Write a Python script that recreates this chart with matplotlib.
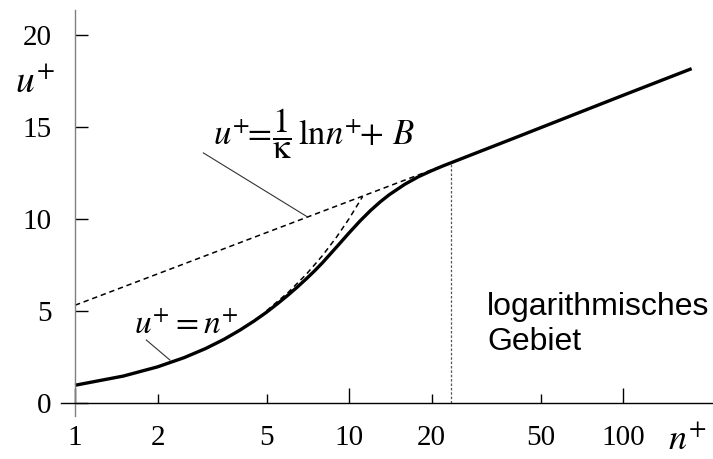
import matplotlib
matplotlib.use("Agg")
import matplotlib.pyplot as plt
from matplotlib.ticker import FixedLocator, FixedFormatter

plt.rcParams['mathtext.fontset'] = 'stix'
plt.rcParams['font.family'] = ['Liberation Serif', 'DejaVu Serif']

# solid curve (wall law)
n_wall = [1, 1.5, 2, 2.5, 3, 3.5, 4, 4.5, 5, 5.5, 6, 6.5, 7, 7.5, 8, 9, 10,
          11, 12, 13, 14, 16, 18, 20, 22, 24, 28, 40, 65.9, 100, 178]
u_wall = [0.95, 1.45, 1.95, 2.45, 2.95, 3.45, 3.95, 4.44, 4.92, 5.4, 5.86, 6.31, 6.75,
          7.18, 7.61, 8.46, 9.23, 9.9, 10.46, 10.92, 11.3, 11.88, 12.3, 12.61, 12.87,
          13.09, 13.48, 14.38, 15.65, 16.71, 18.16]

# u+ = n+ (viscous sublayer), dashed
n_lin = [5, 6, 7, 8, 9, 10, 11.2]
u_lin = [5, 6, 7, 8, 9, 10, 11.2]

# log law, dashed
n_log = [1, 24]
u_log = [5.3, 13.1]

n_border = 23.6
u_border = 13.05

x_major = [1, 10, 100]
x_minor = [2, 5, 20, 50]
y_ticks = [0, 5, 10, 15, 20]

fig = plt.figure(figsize=(7.13, 4.59), dpi=100)
ax = fig.add_axes([0.0856, 0.0937, 0.9144, 0.885])
ax.set_xscale('log')
ax.set_xlim(0.889, 213)
ax.set_ylim(-0.72, 21.36)

for s in ['top', 'right']:
    ax.spines[s].set_visible(False)
ax.spines['bottom'].set_position(('data', 0))
ax.spines['left'].set_position(('data', 1))
ax.spines['left'].set_color('#808080')
ax.spines['left'].set_linewidth(1.0)
ax.spines['bottom'].set_linewidth(1.0)

ax.plot(n_log, u_log, color='black', lw=1.1, ls=(0, (3.5, 2.5)))
ax.plot(n_lin, u_lin, color='black', lw=1.1, ls=(0, (3.5, 2.5)))
ax.plot([n_border, n_border], [0, u_border], color='#555555', lw=0.9, ls=(0, (2, 1.5)))
ax.plot(n_wall, u_wall, color='black', lw=2.4, solid_capstyle='butt', solid_joinstyle='round')

# leader lines
ax.plot([1.82, 2.22], [3.41, 2.32], color='#333333', lw=0.8)
ax.plot([2.94, 7.0], [13.58, 10.13], color='#333333', lw=0.8)

ax.xaxis.set_major_locator(FixedLocator(x_major))
ax.xaxis.set_minor_locator(FixedLocator(x_minor))
ax.xaxis.set_major_formatter(FixedFormatter([str(v) for v in x_major]))
ax.xaxis.set_minor_formatter(FixedFormatter([str(v) for v in x_minor]))
ax.set_yticks(y_ticks)
ax.set_yticklabels([str(v) for v in y_ticks])
ax.tick_params(axis='x', which='major', direction='in', length=10.5, width=1, pad=16, labelsize=21)
ax.tick_params(axis='x', which='minor', direction='in', length=6.7, width=1, pad=16, labelsize=21)
ax.tick_params(axis='y', direction='in', length=9.4, width=1, pad=17, labelsize=21)
ax.yaxis.set_minor_locator(FixedLocator([]))

ax.text(1.64, 3.77, r'$u^{+} = n^{+}$', fontsize=24, ha='left', va='baseline')
ax.text(3.19, 14.0, r'$u^{+}\!\!=\!\dfrac{1}{\mathrm{\kappa}}\,\mathrm{ln}n^{+}\!\!+\,B$',
        fontsize=25, ha='left', va='baseline')
ax.text(31.9, 2.87, 'logarithmisches\nGebiet', fontsize=23, family='Liberation Sans',
        ha='left', va='baseline', linespacing=1.2)

fig.text(15 / 713, 1 - 91.7 / 459, r'$u^{+}$', fontsize=27, ha='left', va='baseline')
fig.text(706 / 713, 1 - 450 / 459, r'$n^{+}$', fontsize=26, ha='right', va='baseline')

fig.savefig('out.png', dpi=100)
